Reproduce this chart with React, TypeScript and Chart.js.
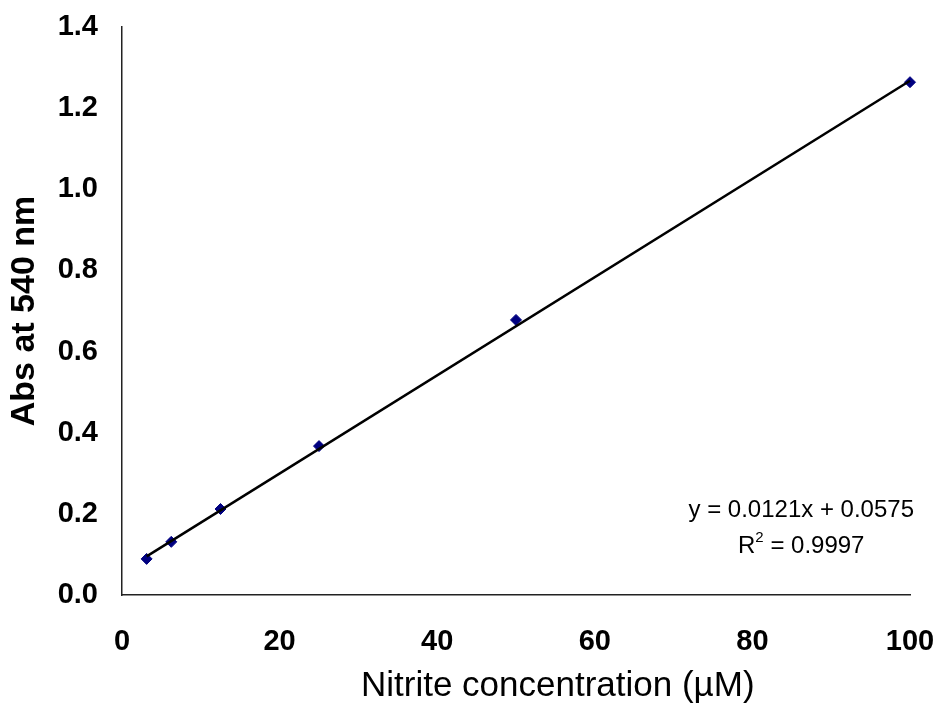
import React, { useEffect, useRef } from "react";
import { Chart, registerables } from "chart.js";

Chart.register(...registerables);

const concentrations = [3.125, 6.25, 12.5, 25, 50, 100];
const absorbance = [0.089, 0.131, 0.212, 0.367, 0.678, 1.264];
const slope = 0.0121;
const intercept = 0.0575;
const equationText = "y = 0.0121x + 0.0575";
const r2Value = "0.9997";
const xTitle = "Nitrite concentration (µM)";
const yTitle = "Abs at 540 nm";

const FONT = "'Liberation Sans', Arial, sans-serif";

const annotationPlugin = {
  id: "trendAnnotation",
  afterDraw(chart: any) {
    const ctx = chart.ctx;
    const xs = chart.scales.x;
    ctx.save();
    ctx.fillStyle = "#000";
    // x-axis title (Excel places it slightly right of the plot centre)
    ctx.textBaseline = "middle";
    ctx.textAlign = "center";
    ctx.font = `35px ${FONT}`;
    ctx.fillText(xTitle, xs.getPixelForValue(55.3), 686);

    const cx = xs.getPixelForValue(86.2);
    ctx.textBaseline = "alphabetic";
    ctx.font = `24px ${FONT}`;
    ctx.fillText(equationText, cx, 517);
    const rPart = "R";
    const rest = " = " + r2Value;
    const wR = ctx.measureText(rPart).width;
    const wRest = ctx.measureText(rest).width;
    ctx.font = `15px ${FONT}`;
    const wSup = ctx.measureText("2").width;
    const total = wR + wSup + wRest;
    let x = cx - total / 2;
    ctx.textAlign = "left";
    ctx.font = `24px ${FONT}`;
    ctx.fillText(rPart, x, 553);
    x += wR;
    ctx.font = `15px ${FONT}`;
    ctx.fillText("2", x, 542);
    x += wSup;
    ctx.font = `24px ${FONT}`;
    ctx.fillText(rest, x, 553);
    ctx.restore();
  },
};

export default function App() {
  const canvasRef = useRef<HTMLCanvasElement | null>(null);

  useEffect(() => {
    document.body.style.margin = "0";
    const canvas = canvasRef.current;
    if (!canvas) return;
    const xMin = Math.min(...concentrations);
    const xMax = Math.max(...concentrations);
    const chart = new Chart(canvas, {
      type: "scatter",
      data: {
        datasets: [
          {
            type: "line",
            label: "Trend",
            data: [
              { x: xMin, y: slope * xMin + intercept },
              { x: xMax, y: slope * xMax + intercept },
            ],
            borderColor: "#000",
            borderWidth: 2.5,
            pointRadius: 0,
            fill: false,
            clip: false,
            order: 0,
          } as any,
          {
            label: "Abs",
            data: concentrations.map((c, i) => ({ x: c, y: absorbance[i] })),
            pointStyle: "rectRot",
            pointRadius: 5.5,
            backgroundColor: "#000080",
            borderColor: "#000080",
            borderWidth: 1,
            clip: false,
            order: 1,
          } as any,
        ],
      },
      options: {
        responsive: false,
        animation: false,
        layout: { padding: { top: 27, right: 31, left: 0, bottom: 0 } },
        plugins: { legend: { display: false }, tooltip: { enabled: false } },
        scales: {
          x: {
            type: "linear",
            min: 0,
            max: 100,
            ticks: {
              stepSize: 20,
              padding: 30,
              color: "#000",
              font: { family: FONT, size: 29, weight: "bold" },
            },
            grid: { display: false, drawTicks: false },
            border: { display: true, color: "#222", width: 1.5 },
            title: { display: false },
            afterFit(scale: any) {
              scale.height = 111;
              scale.paddingLeft = 0;
              scale.paddingRight = 0;
            },
          },
          y: {
            type: "linear",
            min: 0,
            max: 1.4,
            ticks: {
              stepSize: 0.2,
              padding: 24,
              color: "#000",
              font: { family: FONT, size: 29, weight: "bold" },
              callback: (v: any) => Number(v).toFixed(1),
            },
            grid: { display: false, drawTicks: false },
            border: { display: true, color: "#222", width: 1.5 },
            title: {
              display: true,
              text: yTitle,
              color: "#000",
              font: { family: FONT, size: 34, weight: "bold" },
              padding: { top: 4, bottom: 0 },
            },
            afterFit(scale: any) {
              scale.width = 122;
              scale.paddingTop = 0;
              scale.paddingBottom = 0;
            },
          },
        },
      },
      plugins: [annotationPlugin],
    });
    return () => chart.destroy();
  }, []);

  return (
    <div style={{ width: 941, height: 706, background: "#fff" }}>
      <canvas ref={canvasRef} width={941} height={706} />
    </div>
  );
}
